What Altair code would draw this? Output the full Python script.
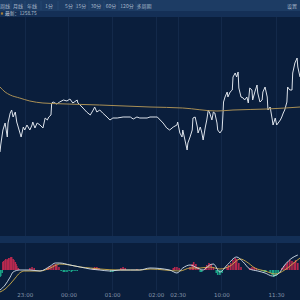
import altair as alt
import pandas as pd

# ---------------- data ----------------
# minute index counted from the left edge of the visible window
price_min = [0, 1, 4, 7, 10, 11, 14, 16, 18, 21, 23, 25, 29, 32, 34, 37, 41, 44, 45, 48,
             51, 55, 59, 62, 65, 67, 70, 71, 73, 78, 82, 87, 92, 96, 100, 106, 107, 110, 114, 119,
             124, 128, 130, 133, 137, 141, 147, 151, 155, 161, 169, 179, 183, 188, 192, 202, 206, 213, 216, 220,
             224, 229, 233, 238, 243, 244, 247, 250, 251, 254, 257, 258, 261, 264, 265, 268, 271, 272, 275, 277,
             279, 282, 284, 286, 288, 291, 293, 295, 298, 299, 302, 305, 306, 307, 309, 312, 313, 316, 319, 320,
             323, 325, 327, 328, 331, 334, 336, 339, 341, 343, 346, 347, 350, 353, 354, 357, 360, 361, 364, 367,
             368, 371, 374, 375, 378, 380, 382, 385, 387, 389, 391, 394, 395, 398, 401, 402, 405, 408, 409, 412]
price_val = [1240.0, 1241.75, 1245.5, 1247.25, 1243.75, 1247.25, 1249.75, 1250.5, 1248.75, 1250.0,
             1247.5, 1246.25, 1243.75, 1246.25, 1245.5, 1246.75, 1245.5, 1246.75, 1247.5, 1246.0,
             1247.25, 1246.75, 1246.0, 1248.5, 1248.0, 1248.75, 1249.25, 1252.25, 1252.5, 1252.0,
             1252.5, 1253.0, 1252.75, 1253.25, 1252.25, 1253.0, 1252.25, 1251.75, 1251.0, 1250.0,
             1249.25, 1250.5, 1251.25, 1250.0, 1250.5, 1249.75, 1248.75, 1248.0, 1248.5, 1248.5,
             1248.75, 1248.75, 1248.25, 1248.75, 1248.5, 1248.5, 1248.75, 1248.75, 1248.75, 1248.0,
             1247.25, 1246.0, 1245.5, 1246.25, 1246.75, 1247.5, 1244.75, 1243.75, 1245.5, 1243.0,
             1240.5, 1242.25, 1243.75, 1245.5, 1248.5, 1248.75, 1246.25, 1244.75, 1246.25, 1245.0,
             1243.0, 1246.25, 1248.0, 1250.5, 1249.75, 1248.0, 1250.0, 1249.75, 1247.25, 1245.5,
             1244.75, 1245.5, 1248.75, 1252.5, 1253.75, 1255.0, 1253.75, 1255.0, 1255.5, 1258.75,
             1259.75, 1258.75, 1260.0, 1256.0, 1253.75, 1253.5, 1253.0, 1253.75, 1252.25, 1256.0,
             1255.5, 1253.0, 1255.0, 1256.75, 1254.75, 1252.5, 1253.0, 1255.0, 1256.25, 1253.75,
             1250.5, 1251.25, 1248.0, 1246.75, 1248.5, 1246.75, 1247.25, 1248.0, 1248.75, 1249.75,
             1250.5, 1252.5, 1256.25, 1255.5, 1255.5, 1259.75, 1262.25, 1263.5, 1261.25, 1258.75]

avg_min = [0, 7, 14, 27, 41, 59, 92, 137, 206, 251, 298, 320, 367, 412]
avg_val = [1256.25, 1255.0, 1254.25, 1253.5, 1252.75, 1252.25, 1252.0, 1251.75,
           1251.25, 1251.0, 1250.25, 1250.5, 1250.75, 1251.25]

dif_min = [0, 7, 14, 18, 27, 41, 55, 69, 76, 82, 96, 110, 124, 137, 151, 165, 179, 192, 206, 233,
           243, 251, 261, 271, 279, 288, 293, 302, 312, 325, 334, 343, 354, 364, 374, 382, 391, 401, 409]
dif_val = [-2.0, -1.5, -0.7, -0.2, 0, 0, -0.1, 0.4, 0.7, 0.7, 0.5, 0.3, 0.1, 0, -0.1, 0, 0, 0, 0.2, 0,
           -0.3, 0.2, 0.5, 0.2, 0, 0.5, 0.6, -0.2, 0.5, 1.3, 0.8, 0.1, -0.1, -0.3, -0.6, -0.4, 0.5, 1.2, 1.5]

dea_min = [0, 7, 14, 21, 27, 34, 55, 69, 82, 96, 110, 124, 137, 165, 192,
           206, 247, 261, 275, 288, 302, 316, 330, 339, 350, 364, 378, 391, 405, 412]
dea_val = [-2.2, -1.9, -1.4, -0.8, -0.3, -0.1, -0.1, 0.2, 0.6, 0.5, 0.3, 0.2, 0.1, 0, 0,
           0.1, -0.1, 0.2, 0.2, 0.3, 0.1, 0.4, 1.1, 0.8, 0.2, -0.1, -0.4, 0, 0.8, 1.2]

hist_min = [0, 1, 3, 4, 5, 7, 8, 10, 11, 12, 14, 15, 16, 18, 19, 21, 22, 23, 25, 26,
            41, 44, 47, 65, 67, 70, 73, 76, 78, 81,
            84, 87, 89, 92, 95, 98, 100, 103, 106,
            128, 130, 133, 136, 152, 155, 158, 166, 169, 172, 188,
            238, 240, 243, 246, 261, 264, 266, 269, 272, 275, 277,
            282, 284, 287, 290, 293, 297, 299, 302, 305,
            312, 314, 317, 320, 323, 325, 328, 331, 343, 346, 349, 352,
            360, 363, 365, 371, 374, 376, 379, 382,
            387, 390, 393, 395, 398, 401, 404, 406, 409]
hist_val = [-0.7, -0.6, -0.3, 0.8, 0.9, 1.0, 1.1, 1.0, 1.1, 1.2, 1.2, 1.3, 1.3, 1.1, 1.0, 0.8, 0.6, 0.4, 0.2, 0.1,
            0.2, 0.3, 0.2, 0.2, 0.3, 0.4, 0.5, 0.6, 0.5, 0.3,
            -0.1, -0.2, -0.2, -0.2, -0.1, -0.2, -0.1, -0.1, -0.1,
            0.2, 0.3, 0.3, 0.2, -0.2, -0.2, -0.1, 0.2, 0.3, 0.2, 0.1,
            0.2, 0.3, 0.3, 0.2, 0.3, 0.6, 0.8, 0.6, 0.3, -0.2, -0.2,
            0.3, 0.5, 0.7, 0.6, 0.3, -0.3, -0.5, -0.5, -0.3,
            0.3, 0.5, 0.7, 1.0, 1.2, 1.1, 0.7, 0.3, 0.2, 0.3, 0.3, 0.2,
            -0.1, -0.2, -0.2, -0.3, -0.5, -0.7, -0.6, -0.3,
            0.2, 0.4, 0.6, 0.8, 1.0, 0.9, 0.8, 1.0, 0.7]

tick_min = [34, 94, 154, 214, 244, 304, 379]
tick_lab = ["23:00", "00:00", "01:00", "02:00", "02:30", "10:00", "11:30"]

toolbar_labels = ["周线", "月线", "年线", "1分", "5分", "15分", "30分", "60分", "120分", "多周期"]
right_label = "设置"
latest = 1258.75

# ---------------- styling / layout ----------------
W, H = 300, 290
BG = "#0a1e3c"
FONT = "Noto Sans CJK SC"
x_scale = alt.Scale(domain=[0, 412], nice=False, zero=False)
price_scale = alt.Scale(domain=[1205.5, 1278], nice=False, zero=False)
macd_scale = alt.Scale(domain=[-2.0, 27.0], nice=False, zero=False)

label_expr = "''"
for v, l in reversed(list(zip(tick_min, tick_lab))):
    label_expr = f"datum.value == {v} ? '{l}' : ({label_expr})"

price_df = pd.DataFrame({"m": price_min, "p": price_val})
avg_df = pd.DataFrame({"m": avg_min, "p": avg_val})
dif_df = pd.DataFrame({"m": dif_min, "v": dif_val})
dea_df = pd.DataFrame({"m": dea_min, "v": dea_val})
hist_df = pd.DataFrame({"m": hist_min, "v": hist_val})
one = pd.DataFrame({"a": [0]})


def band(y0, y1, color, x0=0, x1=W):
    return alt.Chart(one).mark_rect(color=color).encode(
        x=alt.value(x0), x2=alt.value(x1), y=alt.value(y0), y2=alt.value(y1))


def vline(x, y0, y1, color):
    return alt.Chart(one).mark_rule(color=color, strokeWidth=1).encode(
        x=alt.value(x), y=alt.value(y0), y2=alt.value(y1))


def label(txt, x, y, color, size=5, align="center"):
    return alt.Chart(pd.DataFrame({"t": [txt]})).mark_text(
        font=FONT, fontSize=size, color=color, align=align, baseline="middle"
    ).encode(x=alt.value(x), y=alt.value(y), text="t:N")


layers = []
# price line carries the x axis (with grid)
price_line = alt.Chart(price_df).mark_line(color="#dce2ea", strokeWidth=1).encode(
    x=alt.X("m:Q", scale=x_scale, title=None,
            axis=alt.Axis(values=tick_min, labelExpr=label_expr, domain=False, ticks=False,
                          grid=True, gridColor="#13294a", gridWidth=1, labelColor="#8797ad",
                          labelFontSize=5.5, labelPadding=2, labelFont="DejaVu Sans",
                          labelFlush=False)),
    y=alt.Y("p:Q", scale=price_scale, axis=None))
layers.append(price_line)

# UI bands
layers.append(band(0, 11, "#1d3c64"))
layers.append(band(11, 17, "#142f56"))
layers.append(band(236, 243, "#132f56"))
toolbar_x = [0, 18, 32, 49, 69, 81, 96, 111, 127, 144]
for sx in [11, 25, 41, 58, 76, 89, 104, 119, 136]:
    layers.append(vline(sx, 1, 10, "#244670"))
for i, (lab, lx) in enumerate(zip(toolbar_labels, toolbar_x)):
    layers.append(label(lab, lx, 5.5, "#a9b8cb", align="left" if i == 0 else "center"))
layers.append(label(right_label, 292, 5.5, "#a9b8cb"))
layers.append(alt.Chart(one).mark_square(color="#e0a030", size=5).encode(
    x=alt.value(2), y=alt.value(13.5)))
layers.append(label(f"最新：{latest:.2f}", 5, 13.7, "#b8c3d2", size=4.8, align="left"))

# average line
layers.append(alt.Chart(avg_df).mark_line(color="#a98f55", strokeWidth=1, interpolate="monotone").encode(
    x=alt.X("m:Q", scale=x_scale), y=alt.Y("p:Q", scale=price_scale, axis=None)))

# MACD histogram
layers.append(alt.Chart(hist_df).mark_rule(strokeWidth=1.6).encode(
    x=alt.X("m:Q", scale=x_scale),
    y=alt.Y("v:Q", scale=macd_scale, axis=None),
    y2=alt.datum(0),
    color=alt.condition("datum.v >= 0", alt.value("#b8294f"), alt.value("#19a487"))))
# DIF / DEA
layers.append(alt.Chart(dea_df).mark_line(color="#d2b04a", strokeWidth=0.9, interpolate="monotone").encode(
    x=alt.X("m:Q", scale=x_scale), y=alt.Y("v:Q", scale=macd_scale, axis=None)))
layers.append(alt.Chart(dif_df).mark_line(color="#d6e2ee", strokeWidth=0.9, interpolate="monotone").encode(
    x=alt.X("m:Q", scale=x_scale), y=alt.Y("v:Q", scale=macd_scale, axis=None)))

chart = alt.layer(*layers).resolve_scale(y="independent").properties(
    width=W, height=H, background=BG,
    padding={"left": 0, "top": 0, "right": 0, "bottom": 10},
    autosize=alt.AutoSizeParams(type="none"),
).configure_view(stroke=None, fill=BG)

chart.save("out.html", embed_options={"renderer": "svg", "actions": False})
